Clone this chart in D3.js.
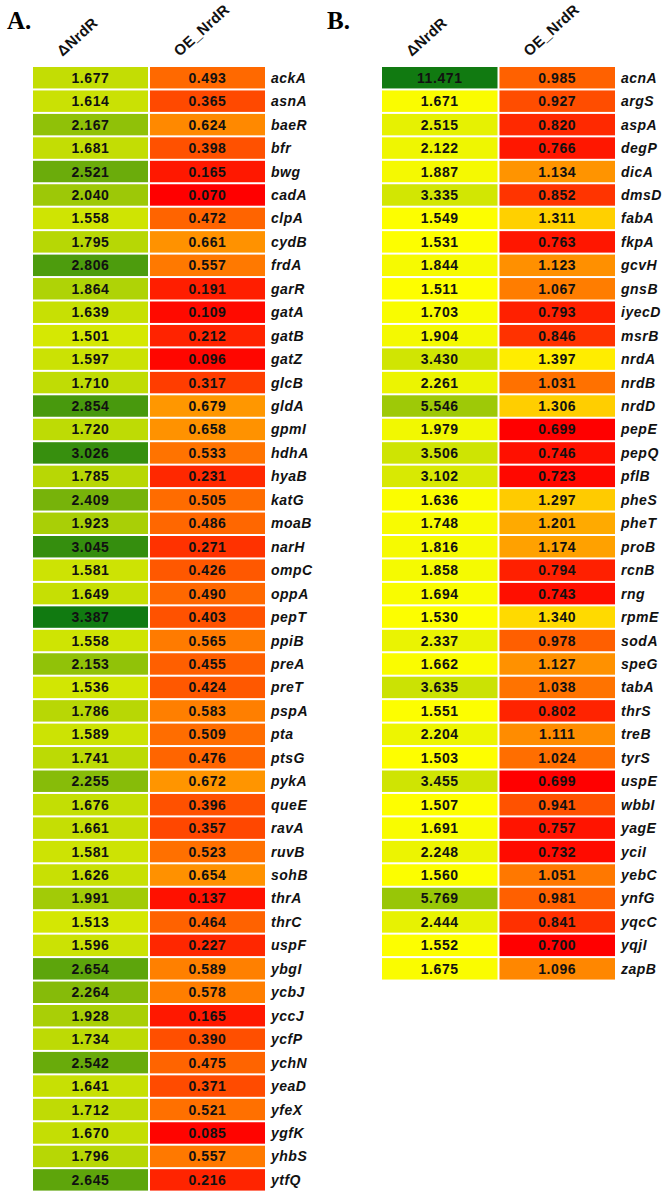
<!DOCTYPE html>
<html>
<head>
<meta charset="utf-8">
<script src="https://cdn.jsdelivr.net/npm/d3@7"></script>
<style>
  body { margin: 0; background: #fff; }
  svg { display: block; }
</style>
</head>
<body>
<svg id="chart"></svg>
<script>
// column headers shared by both panels
const conditions = ["ΔNrdR", "OE_NrdR"];

// panel A
const genesA = ["ackA", "asnA", "baeR", "bfr", "bwg", "cadA", "clpA", "cydB", "frdA", "garR",
  "gatA", "gatB", "gatZ", "glcB", "gldA", "gpmI", "hdhA", "hyaB", "katG", "moaB",
  "narH", "ompC", "oppA", "pepT", "ppiB", "preA", "preT", "pspA", "pta", "ptsG",
  "pykA", "queE", "ravA", "ruvB", "sohB", "thrA", "thrC", "uspF", "ybgI", "ycbJ",
  "yccJ", "ycfP", "ychN", "yeaD", "yfeX", "ygfK", "yhbS", "ytfQ"];
const deltaA = [1.677, 1.614, 2.167, 1.681, 2.521, 2.040, 1.558, 1.795, 2.806, 1.864,
  1.639, 1.501, 1.597, 1.710, 2.854, 1.720, 3.026, 1.785, 2.409, 1.923,
  3.045, 1.581, 1.649, 3.387, 1.558, 2.153, 1.536, 1.786, 1.589, 1.741,
  2.255, 1.676, 1.661, 1.581, 1.626, 1.991, 1.513, 1.596, 2.654, 2.264,
  1.928, 1.734, 2.542, 1.641, 1.712, 1.670, 1.796, 2.645];
const oeA = [0.493, 0.365, 0.624, 0.398, 0.165, 0.070, 0.472, 0.661, 0.557, 0.191,
  0.109, 0.212, 0.096, 0.317, 0.679, 0.658, 0.533, 0.231, 0.505, 0.486,
  0.271, 0.426, 0.490, 0.403, 0.565, 0.455, 0.424, 0.583, 0.509, 0.476,
  0.672, 0.396, 0.357, 0.523, 0.654, 0.137, 0.464, 0.227, 0.589, 0.578,
  0.165, 0.390, 0.475, 0.371, 0.521, 0.085, 0.557, 0.216];

// panel B
const genesB = ["acnA", "argS", "aspA", "degP", "dicA", "dmsD", "fabA", "fkpA", "gcvH", "gnsB",
  "iyecD", "msrB", "nrdA", "nrdB", "nrdD", "pepE", "pepQ", "pflB", "pheS", "pheT",
  "proB", "rcnB", "rng", "rpmE", "sodA", "speG", "tabA", "thrS", "treB", "tyrS",
  "uspE", "wbbI", "yagE", "yciI", "yebC", "ynfG", "yqcC", "yqjI", "zapB"];
const deltaB = [11.471, 1.671, 2.515, 2.122, 1.887, 3.335, 1.549, 1.531, 1.844, 1.511,
  1.703, 1.904, 3.430, 2.261, 5.546, 1.979, 3.506, 3.102, 1.636, 1.748,
  1.816, 1.858, 1.694, 1.530, 2.337, 1.662, 3.635, 1.551, 2.204, 1.503,
  3.455, 1.507, 1.691, 2.248, 1.560, 5.769, 2.444, 1.552, 1.675];
const oeB = [0.985, 0.927, 0.820, 0.766, 1.134, 0.852, 1.311, 0.763, 1.123, 1.067,
  0.793, 0.846, 1.397, 1.031, 1.306, 0.699, 0.746, 0.723, 1.297, 1.201,
  1.174, 0.794, 0.743, 1.340, 0.978, 1.127, 1.038, 0.802, 1.111, 1.024,
  0.699, 0.941, 0.757, 0.732, 1.051, 0.981, 0.841, 0.700, 1.096];

const width = 663, height = 1199;
const rowStep = 23.45;
const tableTop = 66;

const svg = d3.select("#chart").attr("width", width).attr("height", height);

// red -> yellow -> green, midpoint picked per panel
function makeColor(vals, mid) {
  return d3.scaleLinear()
    .domain([d3.min(vals), mid, d3.max(vals)])
    .range(["#ff0000", "#ffff00", "#117a11"])
    .interpolate(d3.interpolateRgb)
    .clamp(true);
}

function drawPanel(letter, letterX, genes, delta, oe, x0, x1, mid) {
  const g = svg.append("g");
  const rows = genes.map((name, i) => ({ name, values: [delta[i], oe[i]] }));
  const color = makeColor(delta.concat(oe), mid);

  const x = d3.scaleBand().domain(conditions).range([x0, x1]);
  const y = d3.scaleBand().domain(genes).range([tableTop, tableTop + genes.length * rowStep]);

  svg.append("text")
    .attr("x", letterX)
    .attr("y", 29)
    .attr("font-family", "Liberation Serif, Times New Roman, serif")
    .attr("font-weight", "bold")
    .attr("font-size", 25)
    .text(letter + ".");

  // rotated column headers
  g.selectAll(".hdr")
    .data(conditions)
    .enter()
    .append("text")
    .attr("transform", d => `translate(${x(d) + x.bandwidth() / 2 - 28}, 57) rotate(-42)`)
    .attr("font-family", "Liberation Sans, Arial, sans-serif")
    .attr("font-weight", "bold")
    .attr("font-size", 15)
    .attr("letter-spacing", 0.3)
    .attr("fill", "#111")
    .text(d => d);

  const row = g.selectAll(".row")
    .data(rows)
    .enter()
    .append("g")
    .attr("transform", d => `translate(0, ${y(d.name)})`);

  row.selectAll("rect")
    .data(d => d.values.map((v, j) => ({ v, col: conditions[j] })))
    .enter()
    .append("rect")
    .attr("x", d => x(d.col) + 1)
    .attr("y", 1)
    .attr("width", x.bandwidth() - 2)
    .attr("height", y.bandwidth() - 2)
    .attr("fill", d => color(d.v));

  row.selectAll(".val")
    .data(d => d.values.map((v, j) => ({ v, col: conditions[j] })))
    .enter()
    .append("text")
    .attr("x", d => x(d.col) + x.bandwidth() / 2)
    .attr("y", y.bandwidth() / 2 + 5)
    .attr("text-anchor", "middle")
    .attr("font-family", "Liberation Sans, Arial, sans-serif")
    .attr("font-weight", "bold")
    .attr("font-size", 14)
    .attr("letter-spacing", 0.6)
    .attr("fill", "#111")
    .text(d => d.v.toFixed(3));

  row.append("text")
    .attr("x", x1 + 5)
    .attr("y", y.bandwidth() / 2 + 5)
    .attr("font-family", "Liberation Sans, Arial, sans-serif")
    .attr("font-weight", "bold")
    .attr("font-style", "italic")
    .attr("font-size", 14)
    .attr("letter-spacing", 0.5)
    .attr("fill", "#111")
    .text(d => d.name);
}

drawPanel("A", 7, genesA, deltaA, oeA, 32, 266, 1.1);
drawPanel("B", 327, genesB, deltaB, oeB, 381, 616, 1.45);
</script>
</body>
</html>
